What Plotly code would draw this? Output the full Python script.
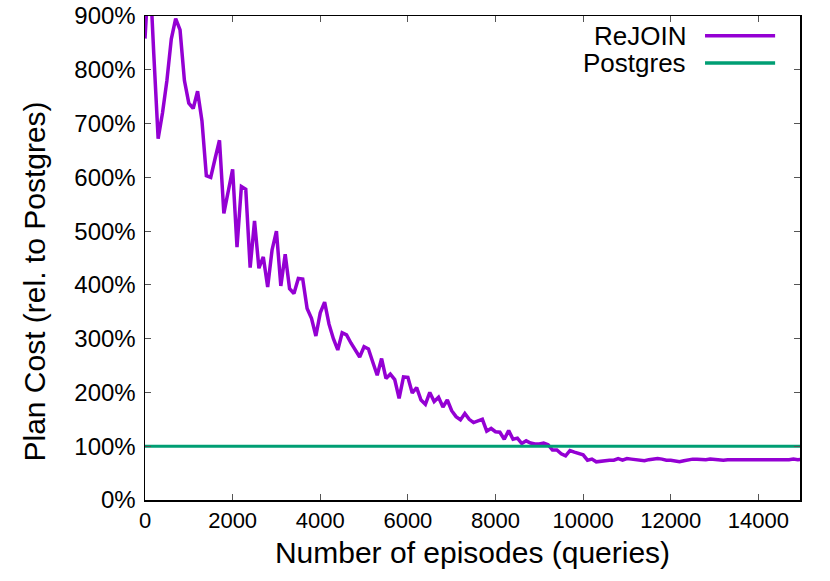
import plotly.graph_objects as go

# ---- data ----
episodes = list(range(0, 15001, 100))
rejoin_cost = [
    858, 1000, 830, 672, 720, 780, 857, 895, 874, 780,
    738, 728, 760, 705, 603, 600, 635, 669, 533, 575,
    615, 470, 583, 578, 432, 519, 431, 452, 396, 465,
    500, 398, 457, 393, 384, 412, 411, 356, 338, 305,
    348, 368, 327, 300, 279, 311, 307, 292, 278, 266,
    285, 281, 256, 232, 263, 226, 234, 224, 189, 229,
    228, 199, 209, 186, 178, 200, 183, 191, 173, 186,
    166, 155, 149, 161, 150, 144, 147, 150, 128, 133,
    127, 126, 113, 129, 113, 115, 105, 110, 106, 104,
    104, 106, 103, 93, 93, 86, 82, 92, 89, 87,
    84, 74, 76, 71, 72, 74, 74, 74, 77, 74,
    77, 76, 75, 73, 73, 75, 76, 77, 76, 74,
    74, 72, 71, 73, 75, 76, 76, 75, 75, 76,
    75, 75, 74, 75, 75, 74, 74, 74, 75, 75,
    75, 75, 74, 75, 75, 75, 74, 75, 76, 75,
    76,
]
postgres_x = [0, 15000]
postgres_cost = [100, 100]

x_ticks = [0, 2000, 4000, 6000, 8000, 10000, 12000, 14000]
x_tick_labels = ["0", "2000", "4000", "6000", "8000", "10000", "12000", "14000"]
y_ticks = [0, 100, 200, 300, 400, 500, 600, 700, 800, 900]
y_tick_labels = ["0%", "100%", "200%", "300%", "400%", "500%", "600%",
                 "700%", "800%", "900%"]
series_names = ["ReJOIN", "Postgres"]
colors = ["#9400D3", "#009E73"]

FONT = "Liberation Sans"

fig = go.Figure()
fig.add_trace(go.Scatter(x=episodes, y=rejoin_cost, mode="lines",
                         line=dict(color=colors[0], width=3.5),
                         name=series_names[0], showlegend=False))
fig.add_trace(go.Scatter(x=postgres_x, y=postgres_cost, mode="lines",
                         line=dict(color=colors[1], width=3),
                         name=series_names[1], showlegend=False))

# gnuplot-style legend: text right-aligned, sample line to the right
leg_y = [0.959, 0.903]
for name, col, yy in zip(series_names, colors, leg_y):
    fig.add_annotation(x=0.829, y=yy, xref="paper", yref="paper",
                       text=name, showarrow=False, xanchor="right",
                       yanchor="middle",
                       font=dict(family=FONT, size=26, color="black"))
    fig.add_shape(type="line", xref="paper", yref="paper",
                  x0=0.855, x1=0.962, y0=yy, y1=yy,
                  line=dict(color=col, width=3.5))

# y-axis title placed as in the reference (slightly below centre)
fig.add_annotation(x=-0.169, y=0.452, xref="paper", yref="paper",
                   text="Plan Cost (rel. to Postgres)", textangle=-90,
                   showarrow=False, xanchor="center", yanchor="middle",
                   font=dict(family=FONT, size=30, color="black"))

axis_common = dict(
    showgrid=False, zeroline=False, showline=True, linecolor="black",
    linewidth=1.5, mirror="allticks", ticks="inside", ticklen=6,
    tickcolor="#555555", tickwidth=1, automargin=False,
    ticklabeloverflow="allow",
)

fig.update_layout(
    width=830, height=581,
    margin=dict(l=145, r=30, t=16, b=81),
    paper_bgcolor="white", plot_bgcolor="white",
    hovermode=False,
    xaxis=dict(range=[0, 14950], tickmode="array", tickvals=x_ticks,
               ticktext=x_tick_labels,
               tickfont=dict(family=FONT, size=22, color="black"),
               title=dict(text="Number of episodes (queries)",
                          font=dict(family=FONT, size=30, color="black"),
                          standoff=10),
               **axis_common),
    yaxis=dict(range=[0, 900], tickmode="array", tickvals=y_ticks,
               ticktext=y_tick_labels, ticklabelstandoff=3,
               tickfont=dict(family=FONT, size=24, color="black"),
               **axis_common),
)

# remove the default 8px page margin so the figure sits at the window origin
fig.write_html("out.html",
               config={"displayModeBar": False, "staticPlot": True},
               post_script="document.body.style.margin='0';document.body.style.overflow='hidden';")
